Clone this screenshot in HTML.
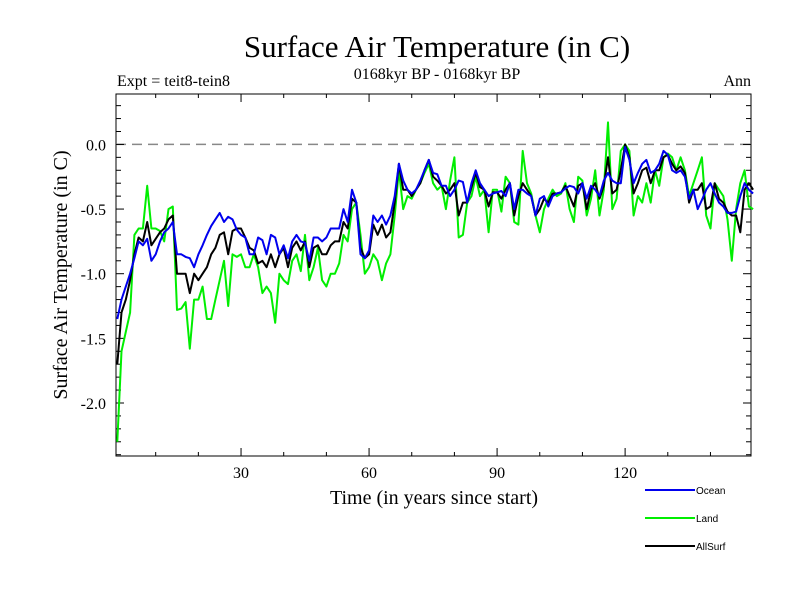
<!DOCTYPE html>
<html><head><meta charset="utf-8"><style>
body{margin:0;background:#fff;}
svg text{font-family:"Liberation Serif",serif;}
</style></head><body>
<svg id="chart" width="800" height="600" xmlns="http://www.w3.org/2000/svg">
<rect width="800" height="600" fill="#fff"/>
<text x="437" y="57" font-size="31" text-anchor="middle">Surface Air Temperature (in C)</text>
<text x="437" y="79" font-size="16" text-anchor="middle">0168kyr BP - 0168kyr BP</text>
<text x="117" y="86" font-size="16">Expt = teit8-tein8</text>
<text x="751" y="86" font-size="16" text-anchor="end">Ann</text>
<text transform="translate(67,275) rotate(-90)" font-size="20" text-anchor="middle">Surface Air Temperature (in C)</text>
<text x="434" y="504" font-size="20" text-anchor="middle">Time (in years since start)</text>
<g id="axes"></g>
<g id="series"></g>
<g id="legend"></g>
</svg>
<script>
const yTicks=[0.0,-0.5,-1.0,-1.5,-2.0];
const yTickLabels=["0.0","-0.5","-1.0","-1.5","-2.0"];
const xTicks=[30,60,90,120];
const xTickLabels=["30","60","90","120"];
const ocean=[-1.35,-1.2,-1.1,-1.0,-0.88,-0.75,-0.78,-0.73,-0.9,-0.85,-0.75,-0.68,-0.65,-0.6,-0.85,-0.85,-0.87,-0.88,-0.95,-0.85,-0.78,-0.7,-0.63,-0.58,-0.53,-0.6,-0.56,-0.58,-0.66,-0.7,-0.72,-0.85,-0.85,-0.72,-0.74,-0.85,-0.7,-0.72,-0.85,-0.78,-0.88,-0.75,-0.7,-0.75,-0.76,-0.9,-0.72,-0.72,-0.75,-0.72,-0.65,-0.65,-0.65,-0.5,-0.6,-0.35,-0.45,-0.85,-0.88,-0.82,-0.55,-0.6,-0.55,-0.62,-0.55,-0.4,-0.15,-0.28,-0.35,-0.38,-0.35,-0.28,-0.2,-0.12,-0.22,-0.23,-0.32,-0.32,-0.4,-0.35,-0.28,-0.29,-0.45,-0.3,-0.2,-0.3,-0.35,-0.4,-0.38,-0.37,-0.36,-0.4,-0.3,-0.5,-0.35,-0.35,-0.38,-0.4,-0.55,-0.42,-0.4,-0.48,-0.4,-0.38,-0.37,-0.34,-0.32,-0.33,-0.38,-0.3,-0.42,-0.32,-0.35,-0.4,-0.28,-0.22,-0.28,-0.3,-0.3,-0.02,-0.12,-0.3,-0.22,-0.15,-0.12,-0.22,-0.2,-0.15,-0.05,-0.08,-0.2,-0.22,-0.2,-0.25,-0.42,-0.35,-0.5,-0.43,-0.35,-0.3,-0.38,-0.45,-0.48,-0.53,-0.53,-0.52,-0.4,-0.3,-0.35,-0.38];
const land=[-2.3,-1.6,-1.45,-1.3,-0.7,-0.65,-0.65,-0.32,-0.65,-0.65,-0.67,-0.75,-0.5,-0.48,-1.28,-1.27,-1.22,-1.58,-1.2,-1.2,-1.1,-1.35,-1.35,-1.2,-1.05,-0.9,-1.25,-0.85,-0.87,-0.85,-0.95,-0.95,-0.85,-0.95,-1.15,-1.1,-1.15,-1.38,-1.0,-1.05,-1.08,-0.9,-0.85,-0.98,-0.7,-1.05,-0.95,-0.8,-1.05,-1.1,-1.0,-1.0,-0.92,-0.7,-0.75,-0.5,-0.45,-0.7,-1.0,-0.95,-0.85,-0.9,-1.05,-0.92,-0.85,-0.55,-0.2,-0.5,-0.4,-0.42,-0.35,-0.3,-0.22,-0.15,-0.3,-0.35,-0.32,-0.5,-0.28,-0.1,-0.72,-0.7,-0.45,-0.4,-0.25,-0.4,-0.35,-0.68,-0.35,-0.35,-0.52,-0.25,-0.3,-0.6,-0.62,-0.05,-0.3,-0.38,-0.55,-0.68,-0.5,-0.42,-0.35,-0.4,-0.38,-0.3,-0.5,-0.6,-0.25,-0.28,-0.55,-0.42,-0.2,-0.55,-0.35,0.17,-0.5,-0.42,-0.05,0.0,-0.05,-0.55,-0.4,-0.45,-0.3,-0.45,-0.2,-0.32,-0.1,-0.07,-0.1,-0.2,-0.1,-0.2,-0.4,-0.3,-0.2,-0.1,-0.55,-0.65,-0.3,-0.35,-0.4,-0.58,-0.9,-0.5,-0.3,-0.2,-0.48,-0.5];
const allsurf=[-1.7,-1.3,-1.2,-1.05,-0.85,-0.72,-0.75,-0.6,-0.78,-0.73,-0.68,-0.65,-0.58,-0.55,-1.0,-1.0,-1.0,-1.15,-1.0,-1.05,-1.0,-0.95,-0.85,-0.8,-0.7,-0.68,-0.85,-0.67,-0.65,-0.65,-0.72,-0.8,-0.82,-0.92,-0.9,-0.95,-0.85,-0.95,-0.85,-0.8,-0.95,-0.8,-0.75,-0.82,-0.75,-0.95,-0.8,-0.78,-0.85,-0.85,-0.78,-0.75,-0.75,-0.6,-0.65,-0.42,-0.45,-0.8,-0.88,-0.85,-0.62,-0.7,-0.62,-0.72,-0.68,-0.45,-0.15,-0.35,-0.35,-0.4,-0.35,-0.3,-0.2,-0.12,-0.25,-0.28,-0.32,-0.38,-0.35,-0.3,-0.55,-0.45,-0.45,-0.33,-0.22,-0.33,-0.35,-0.48,-0.37,-0.37,-0.42,-0.35,-0.3,-0.55,-0.4,-0.3,-0.35,-0.4,-0.55,-0.5,-0.42,-0.45,-0.38,-0.38,-0.37,-0.32,-0.4,-0.48,-0.32,-0.3,-0.5,-0.35,-0.3,-0.42,-0.32,-0.1,-0.38,-0.35,-0.2,0.0,-0.1,-0.38,-0.3,-0.2,-0.18,-0.3,-0.2,-0.2,-0.1,-0.08,-0.15,-0.2,-0.17,-0.22,-0.45,-0.35,-0.35,-0.3,-0.5,-0.48,-0.3,-0.42,-0.45,-0.52,-0.55,-0.55,-0.68,-0.35,-0.3,-0.35];
const X0=116,X1=751,Y0=94,Y1=456;
const xDom=[0.7,149.5], yDom=[0.39,-2.41];
function xs(v){return X0+(v-xDom[0])/(xDom[1]-xDom[0])*(X1-X0);}
function ys(v){return Y0+(v-yDom[0])/(yDom[1]-yDom[0])*(Y1-Y0);}
const NS="http://www.w3.org/2000/svg";
function mk(tag,attrs,parent){const e=document.createElementNS(NS,tag);for(const k in attrs)e.setAttribute(k,attrs[k]);parent.appendChild(e);return e;}
const axes=document.getElementById('axes');
let r=mk('rect',{x:X0,y:Y0,width:X1-X0,height:Y1-Y0,fill:'none',stroke:'#000','stroke-width':1},axes);


let zl=mk('line',{x1:X0,x2:X1,y1:ys(0),y2:ys(0),stroke:'#888','stroke-width':1.5,'stroke-dasharray':'10,6'},axes);


for(let v=-2.4;v<=0.35;v+=0.1){const y=ys(v);const major=Math.abs(Math.round(v*10)%5)===0;const L=major?8:5;
 mk('line',{x1:X0,x2:X0+L,y1:y,y2:y,stroke:'#000'},axes);mk('line',{x1:X1,x2:X1-L,y1:y,y2:y,stroke:'#000'},axes);}
for(let t=10;t<150;t+=10){const x=xs(t);const L=(t%30===0)?8:4;mk('line',{x1:x,x2:x,y1:Y1,y2:Y1-L,stroke:'#000'},axes);mk('line',{x1:x,x2:x,y1:Y0,y2:Y0+L,stroke:'#000'},axes);}
yTicks.forEach((v,i)=>{const t=mk('text',{x:106,y:ys(v)+6,'font-size':16,'text-anchor':'end'},axes);t.textContent=yTickLabels[i];
 
 });
xTicks.forEach((v,i)=>{const t=mk('text',{x:xs(v),y:478,'font-size':16,'text-anchor':'middle'},axes);t.textContent=xTickLabels[i];
 
 });
const series=document.getElementById('series');
function draw(arr,color,name){const pts=arr.map((v,i)=>xs(i+1).toFixed(1)+','+ys(v).toFixed(1)).join(' ');
 const p=mk('polyline',{points:pts,fill:'none',stroke:color,'stroke-width':2,'stroke-linejoin':'round'},series);
 
 }
draw(land,'#00ee00','land-series');
draw(allsurf,'#000000','allsurf-series');
draw(ocean,'#0000ee','ocean-series');
const legend=document.getElementById('legend');
[['Ocean','#0000ee',490],['Land','#00ee00',518],['AllSurf','#000000',546]].forEach(([lab,c,y])=>{
 const l=mk('line',{x1:645,x2:695,y1:y,y2:y,stroke:c,'stroke-width':2},legend);
 
 
 const t=mk('text',{x:696,y:y+4,'font-size':10,style:'font-family:"Liberation Sans",sans-serif'},legend);t.textContent=lab;
 
 });
</script>
</body></html>
